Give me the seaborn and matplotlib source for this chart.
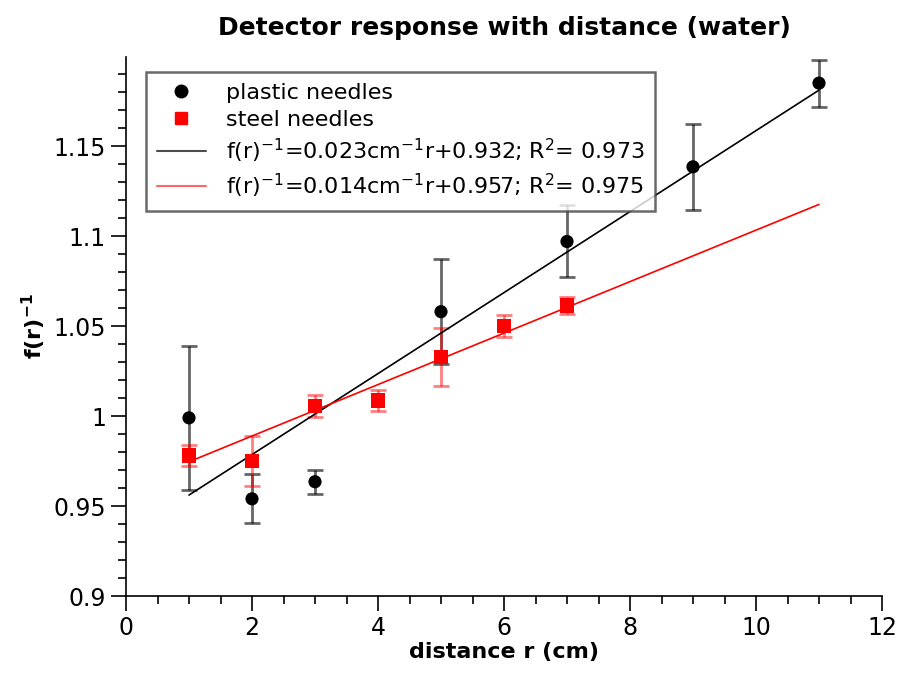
import numpy as np
import pandas as pd
import seaborn as sns
import matplotlib
matplotlib.use("Agg")
import matplotlib.pyplot as plt
from matplotlib.ticker import MultipleLocator, FuncFormatter
from matplotlib.lines import Line2D

# data
plastic_r = [1, 2, 3, 5, 7, 9, 11]
plastic_f = [0.999, 0.954, 0.9635, 1.058, 1.097, 1.1385, 1.185]
plastic_err = [0.040, 0.0136, 0.0066, 0.029, 0.020, 0.024, 0.013]

steel_r = [1, 2, 3, 4, 5, 6, 7]
steel_f = [0.978, 0.975, 1.0056, 1.0085, 1.0328, 1.050, 1.0613]
steel_err = [0.006, 0.014, 0.0063, 0.0057, 0.016, 0.0063, 0.0047]

# linear fits (slope, intercept) as drawn
fit_plastic = [0.0225, 0.9336]
fit_steel = [0.0143, 0.9603]
fit_range = [1, 11]

labels = ["plastic needles", "steel needles",
          r"f(r)$^{-1}$=0.023cm$^{-1}$r+0.932; R$^{2}$= 0.973",
          r"f(r)$^{-1}$=0.014cm$^{-1}$r+0.957; R$^{2}$= 0.975"]

sns.set_style("ticks")
plt.rcParams['font.family'] = ['DejaVu Sans']
# plain black text and axes
for k in ['text.color', 'axes.labelcolor', 'xtick.color', 'ytick.color', 'axes.edgecolor']:
    plt.rcParams[k] = 'black'

fig = plt.figure(figsize=(9, 6.74), dpi=100)
ax = fig.add_axes([0.14, 0.1157, 0.84, 0.7997])

df_p = pd.DataFrame({"r": plastic_r, "f": plastic_f})
df_s = pd.DataFrame({"r": steel_r, "f": steel_f})

# error bars
ax.errorbar(plastic_r, plastic_f, yerr=plastic_err, fmt='none', ecolor='black',
            alpha=0.6, elinewidth=2, capsize=6, capthick=2, zorder=2)
ax.errorbar(steel_r, steel_f, yerr=steel_err, fmt='none', ecolor='red',
            alpha=0.5, elinewidth=2, capsize=6, capthick=2, zorder=2)

# fit lines
fx = np.array(fit_range)
df_fit = pd.DataFrame({
    "r": np.concatenate([fx, fx]),
    "f": np.concatenate([fit_plastic[0] * fx + fit_plastic[1], fit_steel[0] * fx + fit_steel[1]]),
    "fit": [labels[2]] * 2 + [labels[3]] * 2,
})
sns.lineplot(data=df_fit, x="r", y="f", hue="fit", palette=["black", "red"],
             linewidth=1.2, ax=ax, legend=False, zorder=3)

# points
sns.scatterplot(data=df_p, x="r", y="f", color="black", marker="o", s=90,
                edgecolor="none", ax=ax, zorder=4)
sns.scatterplot(data=df_s, x="r", y="f", color="red", marker="s", s=110,
                edgecolor="none", ax=ax, zorder=4)

ax.set_xlim(0, 12)
ax.set_ylim(0.9, 1.1995)
ax.xaxis.set_major_locator(MultipleLocator(2))
ax.xaxis.set_minor_locator(MultipleLocator(0.5))
ax.yaxis.set_major_locator(MultipleLocator(0.05))
ax.yaxis.set_minor_locator(MultipleLocator(0.01))
ax.yaxis.set_major_formatter(FuncFormatter(lambda v, p: "%g" % round(v, 3)))
ax.tick_params(which='major', length=11, width=1.2, labelsize=17, direction='out')
ax.tick_params(which='minor', length=6, width=1.2, direction='out')
sns.despine(ax=ax)
for s in ['left', 'bottom']:
    ax.spines[s].set_linewidth(1.2)

ax.set_xlabel("distance r (cm)", fontsize=16, fontweight='bold', labelpad=1)
ax.set_ylabel(r"f(r)$^{\mathbf{-1}}$", fontsize=16, fontweight='bold', labelpad=4)
ax.set_title("Detector response with distance (water)", fontsize=18,
             fontweight='bold', pad=16)

handles = [
    Line2D([], [], color='black', marker='o', linestyle='none', markersize=9),
    Line2D([], [], color='red', marker='s', linestyle='none', markersize=9),
    Line2D([], [], color='black', linewidth=1.5, alpha=0.7),
    Line2D([], [], color='red', linewidth=1.5, alpha=0.6),
]
leg = ax.legend(handles, labels, loc='upper left', bbox_to_anchor=(0.026, 0.972),
                borderaxespad=0, fontsize=16, frameon=True, fancybox=False,
                handlelength=2.2, handletextpad=0.9, labelspacing=0.3,
                borderpad=0.5)
leg.get_frame().set_edgecolor('#444444')
leg.get_frame().set_linewidth(1.8)

fig.savefig("out.png", dpi=100)
